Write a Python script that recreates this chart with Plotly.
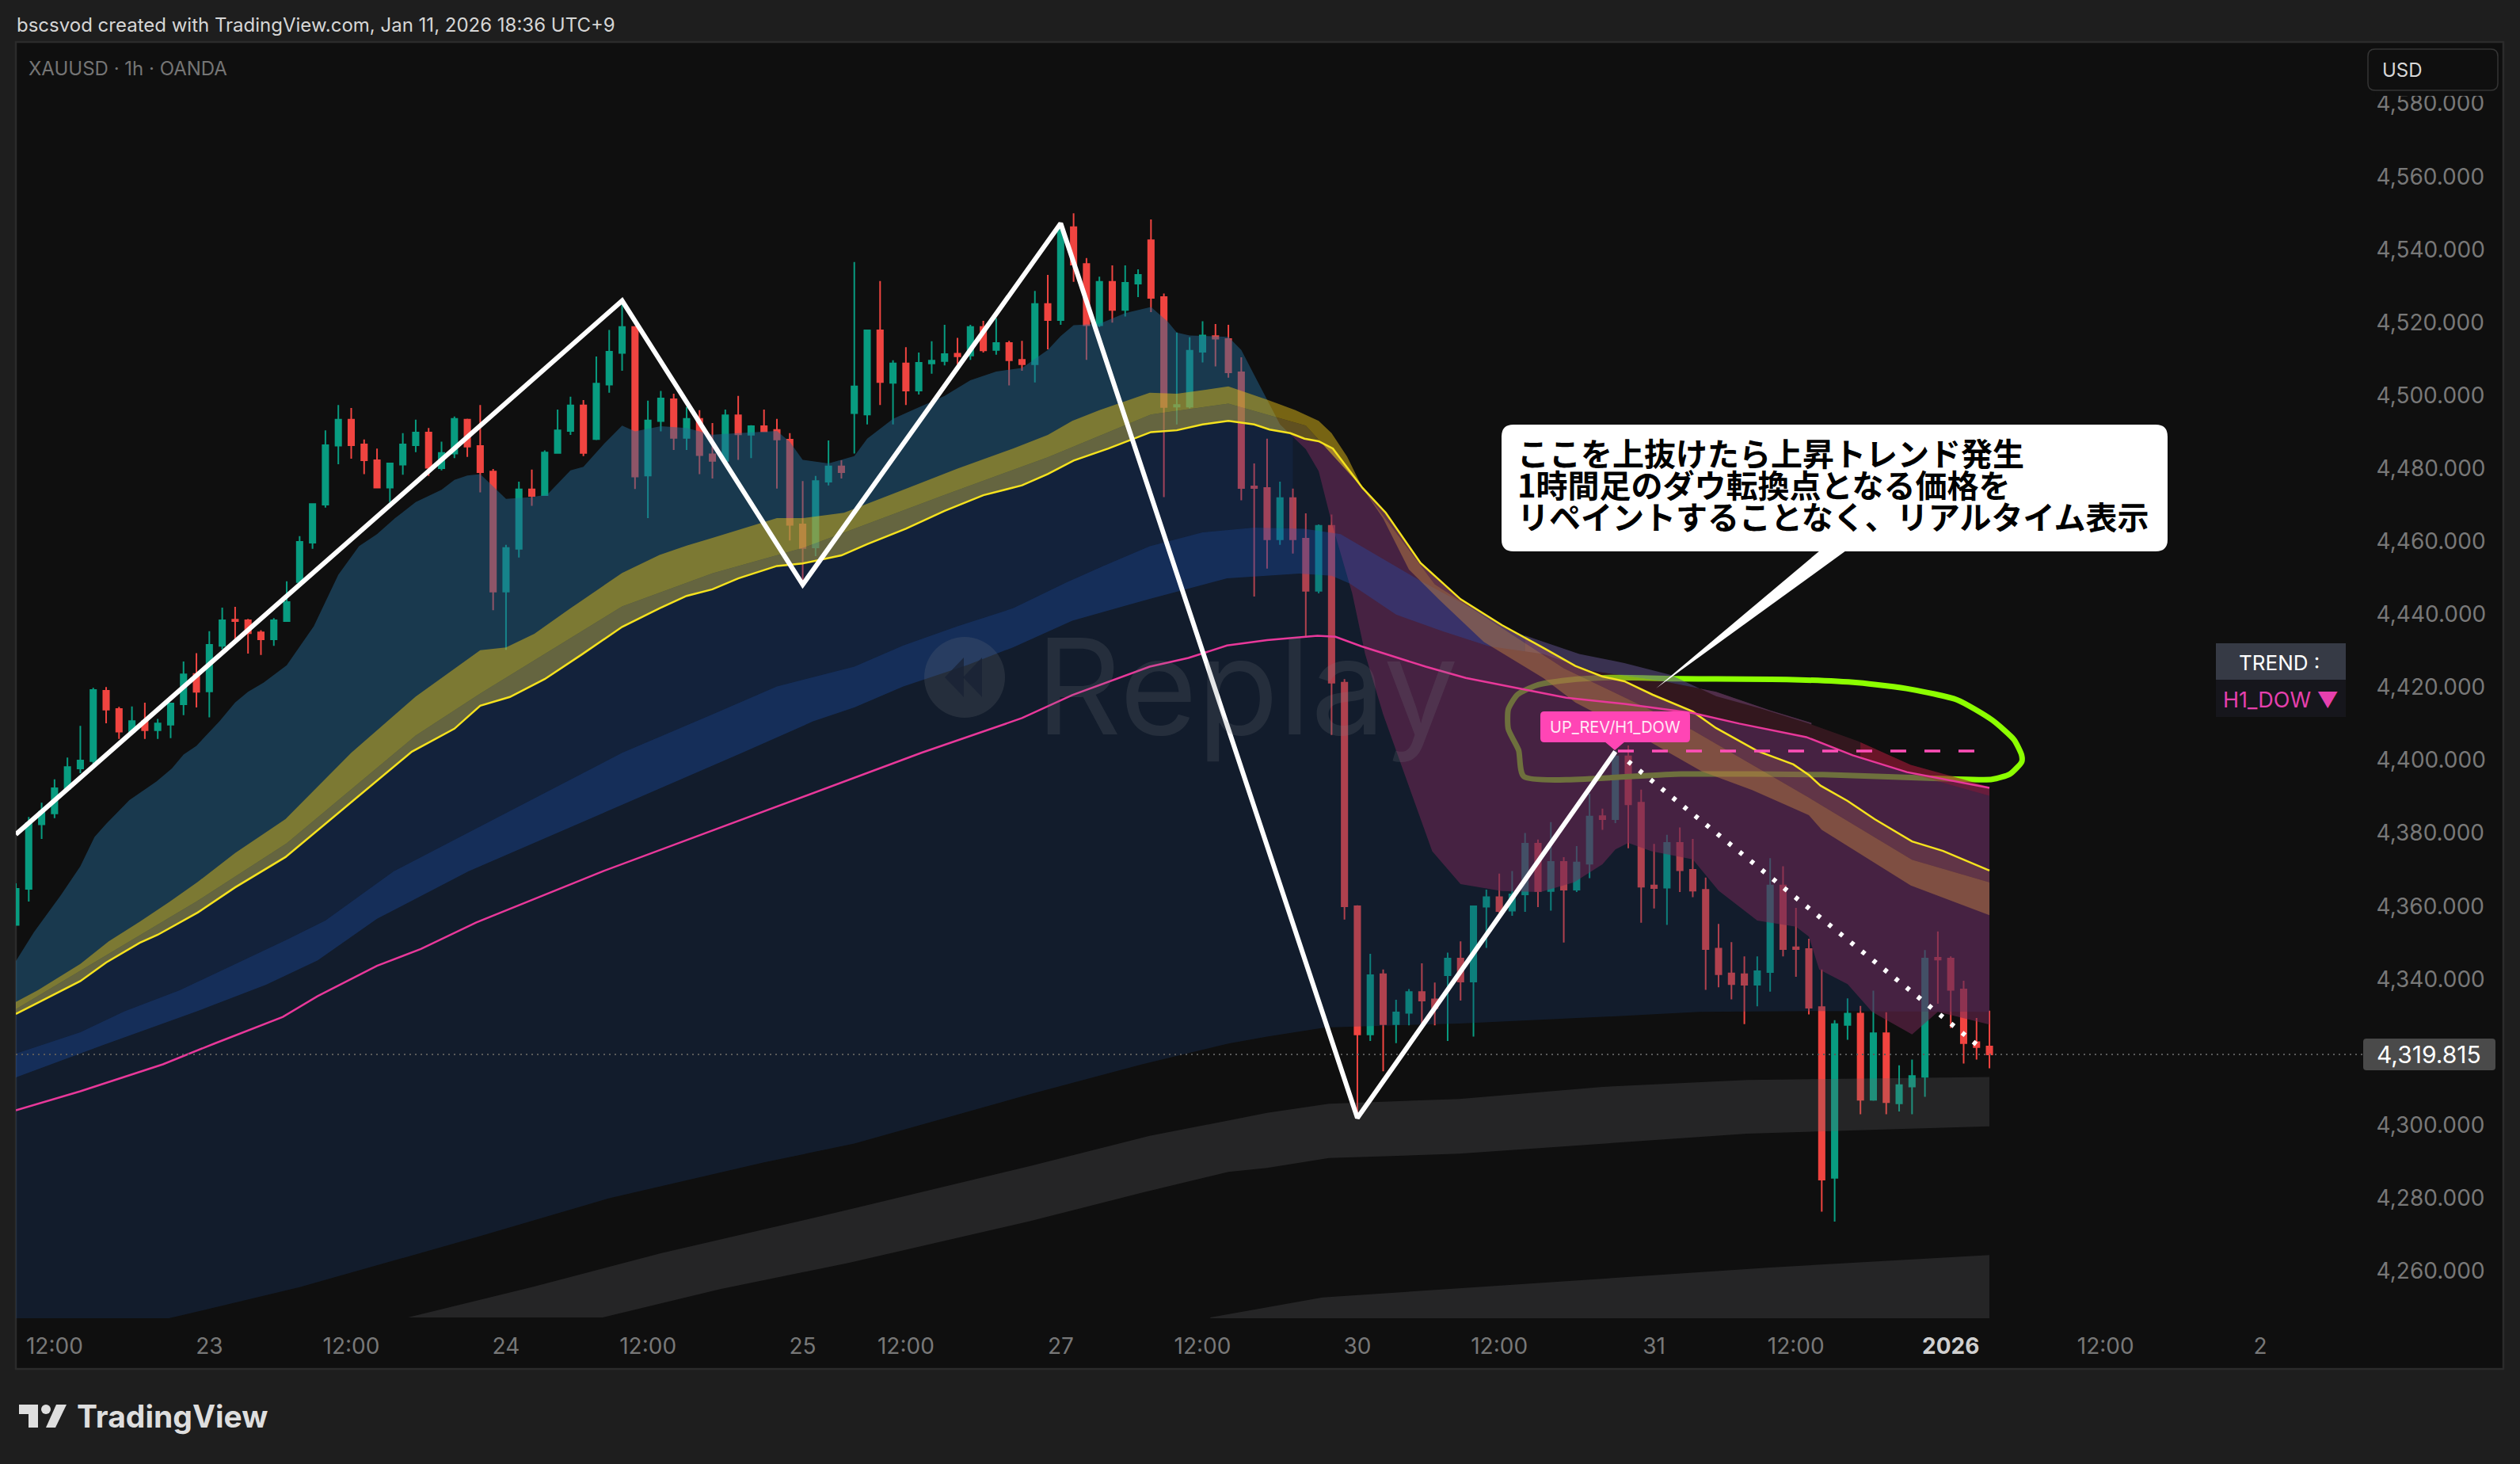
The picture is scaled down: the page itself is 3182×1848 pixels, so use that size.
import numpy as np
import plotly.graph_objects as go

# ---------- chart data (bar index, prices) ----------
OPEN = [4354.6,4364.5,4382.2,4385.2,4391.9,4397.5,4399.5,4418.8,4413.8,4407.5,
4410.5,4408.0,4409.5,4415.1,4423.4,4418.6,4431.1,4438.3,4438.1,4434.8,
4432.9,4437.9,4448.6,4459.4,4469.8,4486.0,4493.1,4486.3,4482.0,4474.5,
4480.8,4486.1,4489.6,4479.8,4483.8,4493.1,4485.9,4478.9,4446.0,4457.7,
4474.0,4472.4,4484.0,4490.0,4497.0,4487.8,4502.7,4511.4,4518.5,4477.8,
4492.7,4498.7,4488.1,4493.3,4483.6,4481.8,4494.3,4489.0,4491.3,4490.3,
4487.6,4464.4,4458.1,4476.1,4480.3,4494.9,4494.5,4517.6,4503.2,4508.5,
4501.1,4508.5,4509.2,4511.2,4510.7,4518.5,4512.2,4514.1,4509.5,4508.3,
4524.8,4520.4,4545.9,4535.8,4519.0,4530.9,4523.2,4530.4,4542.3,4526.7,
4496.7,4496.7,4511.7,4516.0,4515.2,4506.1,4474.8,4474.4,4460.3,4471.6,
4460.5,4446.2,4464.0,4421.0,4359.7,4324.6,4341.1,4327.4,4330.5,4336.2,
4334.2,4340.8,4345.4,4339.1,4359.6,4362.2,4358.5,4363.0,4376.9,4363.9,
4371.9,4364.3,4371.4,4384.4,4383.6,4400.8,4388.1,4365.4,4364.8,4377.1,
4369.7,4364.2,4348.1,4341.3,4341.1,4338.2,4341.7,4365.4,4348.5,4348.0,
4332.1,4285.3,4327.2,4330.3,4306.7,4324.9,4305.7,4310.3,4313.0,4345.6,
4345.4,4336.9,4322.5,4321.3]
HIGH = [4366.0,4384.2,4388.1,4394.5,4400.5,4409.2,4419.6,4419.8,4414.4,4414.5,
4415.5,4411.1,4415.3,4426.8,4429.1,4435.1,4441.6,4441.8,4438.5,4435.4,
4438.7,4448.8,4461.2,4470.1,4490.2,4497.1,4496.3,4487.7,4485.2,4481.3,
4489.4,4493.1,4490.8,4487.1,4494.0,4493.4,4497.1,4479.6,4458.8,4476.1,
4479.4,4484.7,4495.9,4499.4,4498.5,4510.4,4517.7,4525.7,4518.5,4498.3,
4501.0,4500.2,4496.6,4495.7,4492.2,4495.9,4499.6,4491.6,4495.9,4493.3,
4489.4,4476.3,4477.7,4487.4,4482.0,4536.3,4517.6,4531.1,4509.4,4513.0,
4511.5,4514.6,4519.1,4515.5,4519.1,4520.2,4520.9,4514.7,4514.7,4528.4,
4532.8,4546.6,4549.7,4537.4,4532.3,4535.4,4535.4,4534.3,4548.0,4527.7,
4517.0,4515.7,4520.1,4519.3,4519.1,4510.2,4481.1,4487.9,4476.1,4474.2,
4467.4,4464.4,4467.1,4422.0,4360.0,4346.7,4342.4,4334.1,4337.0,4344.1,
4338.8,4347.0,4350.1,4359.7,4364.3,4368.7,4369.4,4379.8,4378.0,4382.8,
4373.2,4376.2,4390.6,4386.5,4402.3,4403.8,4391.7,4376.8,4379.3,4381.3,
4378.2,4367.6,4354.9,4349.9,4346.0,4346.0,4372.9,4370.7,4359.3,4350.8,
4342.4,4328.5,4334.5,4332.4,4336.6,4330.7,4316.1,4317.7,4347.7,4352.8,
4346.0,4339.3,4329.1,4331.1]
LOW = [4354.6,4361.0,4378.2,4383.9,4391.9,4396.2,4398.6,4409.9,4405.6,4407.5,
4405.6,4405.6,4405.8,4412.1,4414.2,4411.5,4430.2,4432.7,4429.0,4428.6,
4431.1,4437.9,4448.6,4457.7,4469.0,4480.9,4482.4,4478.2,4474.3,4470.5,
4478.0,4484.2,4477.7,4479.2,4482.6,4482.9,4473.2,4440.9,4430.0,4455.3,
4469.5,4472.4,4483.9,4488.9,4483.1,4487.5,4500.5,4506.5,4474.1,4466.1,
4489.9,4484.8,4484.8,4478.2,4477.0,4481.8,4482.1,4482.6,4489.7,4474.2,
4460.0,4448.2,4455.7,4475.1,4477.0,4483.8,4491.8,4497.1,4491.8,4497.1,
4500.0,4505.7,4508.0,4508.3,4509.5,4511.5,4510.9,4502.5,4506.5,4503.3,
4512.4,4519.1,4530.9,4509.5,4518.5,4519.7,4521.4,4526.7,4522.6,4471.9,
4491.8,4496.2,4508.8,4507.7,4504.6,4471.0,4444.6,4452.3,4458.8,4456.4,
4433.6,4445.5,4406.7,4356.1,4301.5,4322.8,4314.5,4322.2,4327.1,4327.1,
4327.1,4322.8,4333.9,4324.0,4348.3,4358.0,4357.1,4358.2,4359.5,4358.5,
4349.8,4363.6,4367.4,4380.7,4382.5,4375.6,4355.2,4359.1,4354.6,4363.6,
4362.2,4336.8,4337.5,4334.2,4327.4,4332.3,4336.3,4346.0,4340.4,4330.1,
4276.0,4273.3,4323.1,4302.7,4306.4,4302.7,4303.5,4302.7,4307.5,4333.0,
4326.4,4316.6,4317.7,4315.3]
CLOSE = [4364.5,4382.5,4385.6,4392.1,4397.9,4399.7,4419.0,4413.6,4407.6,4410.5,
4408.0,4409.8,4415.3,4423.3,4418.5,4431.4,4438.1,4437.9,4434.6,4432.9,
4438.1,4443.1,4459.6,4470.0,4486.1,4493.1,4486.1,4482.0,4474.5,4481.1,
4486.3,4489.6,4479.9,4484.0,4493.3,4485.7,4478.7,4446.0,4457.9,4474.0,
4472.2,4484.1,4490.2,4497.0,4484.0,4503.0,4511.7,4518.5,4477.5,4492.9,
4498.9,4488.1,4493.3,4483.4,4481.8,4494.3,4489.1,4491.3,4489.9,4487.7,
4464.3,4457.9,4476.3,4480.3,4478.7,4502.2,4517.6,4503.4,4508.5,4501.1,
4508.7,4509.3,4511.1,4510.5,4518.5,4512.1,4514.1,4509.4,4508.3,4524.8,
4520.4,4545.6,4535.6,4519.0,4530.9,4523.2,4530.6,4532.8,4526.5,4496.6,
4497.1,4512.0,4516.2,4515.3,4506.1,4474.4,4474.4,4460.3,4471.6,4460.3,
4446.2,4464.0,4421.0,4359.7,4324.6,4340.8,4327.4,4330.6,4336.2,4333.9,
4331.8,4345.4,4339.1,4359.7,4362.2,4358.4,4363.0,4376.9,4363.9,4371.9,
4364.3,4371.7,4384.3,4383.6,4400.8,4387.7,4365.1,4364.7,4377.1,4369.6,
4364.0,4348.0,4341.1,4338.4,4338.2,4341.9,4365.4,4348.0,4348.0,4331.9,
4284.8,4327.4,4330.3,4306.7,4324.9,4306.0,4310.7,4313.2,4345.4,4345.1,
4336.8,4322.2,4321.1,4319.1]

TICK_POS = [3, 15, 26, 38, 49, 61, 69, 81, 92, 104, 115, 127, 138, 150, 162, 174]
TICK_TXT = ["12:00", "23", "12:00", "24", "12:00", "25", "12:00", "27", "12:00", "30",
            "12:00", "31", "12:00", "<b><span style='color:#d0d0d0'>2026</span></b>", "12:00", "2"]
PRICE_TICKS = [4260, 4280, 4300, 4340, 4360, 4380, 4400, 4420, 4440, 4460, 4480,
               4500, 4520, 4540, 4560, 4580]
LAST_LEVEL = 4319.1
LAST_TEXT = "4,319.815"

# short average (upper edge of the cloud in the rise, lower edge in the fall)
T_X = [0,1.4,3.5,5,6.1,7,8.8,10.9,12.1,13,14,15.8,17,18,19.2,21,23.1,25,26.6,28,29.4,31,33,34,35,36,37,38,40,41.2,43,44,45.6,47,48,50,52,54,56,59,60,61,63,65,66,68,69.5,72,74,76,78,80,81,82,84,86,88,89.3,90,91,94,95,96,97,98,100,101,102,103.6,104.6,106,107.5,109.8,112,115.2,118.2,120.8,123,124,125,126.8,130,132,135,138,139,139.8,142,143.9,147,149,153]
T_V = [4344.7,4352.6,4362.8,4370.7,4378.7,4382.3,4388.8,4393.9,4397.5,4401.3,4403.7,4410.5,4415.6,4418.5,4421,4425.8,4436.5,4450.6,4458.4,4461.7,4466.1,4470.5,4473.9,4476.6,4477.8,4478.2,4474.8,4471.4,4471.9,4472.6,4479.2,4480.2,4486.5,4491.5,4489.9,4491.3,4490.8,4489,4489.4,4490,4487,4482.1,4481.1,4483.1,4487.9,4493.3,4495.7,4499.6,4503.9,4506.3,4507.3,4512.2,4516,4519,4519.4,4522.3,4524,4520,4517,4516.2,4515.8,4512.2,4505.4,4498.6,4491.8,4485,4479,4465,4445.5,4428.9,4412.3,4397.3,4374.8,4365.8,4363.9,4363.6,4366.3,4371.2,4375.3,4377.1,4374.8,4372.6,4364,4355.8,4354.1,4351.4,4342.4,4338.4,4330.8,4324.6,4330.8,4327.3]

# yellow average
Y_X = [0,5,7,9.6,11,14.1,17,20.9,30.7,34,36,38.3,41,43.9,47,49.9,52,54,56,59,61,64,66,69,72,75,78,80,82,84.7,88,90,92,94,96,97.2,98.8,99.9,101,102.1,103.2,104.4,106.2,108.9,112,115.2,118.4,120.9,123,124.7,126.9,130,131.8,135,137.8,139,139.9,142,144.1,147,149.4,153]
Y_V = [4330.2,4339.2,4344.3,4349.7,4351.9,4358,4364.9,4373.2,4402.1,4408.4,4414.7,4417.1,4422,4428.8,4436.3,4441.4,4444.8,4446.6,4449.6,4453,4453.7,4455.9,4459,4463.2,4468.1,4472.4,4475.1,4478.2,4481.9,4485.2,4489.7,4490.2,4491.8,4492.8,4491.8,4490.4,4489.4,4487.9,4487.2,4485.2,4480,4474.4,4467.6,4453.8,4443.9,4436.8,4430.6,4425.6,4422.7,4421.4,4417.7,4413.1,4408.6,4402.3,4398.6,4395.7,4392.8,4388.6,4383.6,4377.5,4374.9,4369.5]

# olive band: outer edge and inner edge
O1_X = [0,1.7,5,7.2,9.6,11.9,14.1,17,20.9,26,31,36,38,40.2,43,47,49.9,52,54,59,61,64.2,68.8,73,77.3,80,81.9,84,87.9,90,94,97,99.2,101,102,103.2,104.4,106,108,110.3,113.8,118.4,120.9,126.4,130.7,134.6,139,140,146.9,153]
O1_V = [4333.5,4336.7,4343.9,4350.1,4355.5,4360.9,4366.4,4374.3,4383.6,4401.8,4417.2,4429.9,4430.7,4434.4,4441.4,4451.1,4456,4458.6,4460.7,4466.1,4466.1,4467.6,4473.9,4479.7,4485.2,4488.9,4492.8,4495.7,4500.5,4500.2,4502.2,4498.6,4495.7,4492.8,4489.4,4483,4474.4,4466,4452,4443.9,4432.2,4422.3,4415.6,4405.4,4396.7,4391.6,4384.7,4380.7,4365.4,4357.3]
O2_X = [0,5,14,21,31,36,47,54,61,72,80,88,94,100,104.4,110,120,130,139,147,153]
O2_V = [4331.5,4342,4361,4377,4406.5,4418,4441.9,4451,4457.9,4472.5,4482.8,4494.5,4497.5,4491.5,4474.4,4448,4425,4408,4389.5,4372.5,4366.3]

# blue band edges
B1_X = [0,5,8.4,12.7,20.9,24,29.3,47,54,59,65,68.8,73,77.3,81.5,84.3,87.9,92,96,99.9,102.7,108.9,114.2,115.6,121.2,124.7,128.3,131.8,135.3,139,142.8,146.9,151,153]
B1_V = [4319.3,4325.2,4330.9,4336.7,4350.4,4355.8,4369.3,4401.8,4412.3,4420,4425.4,4431.2,4436.5,4441.4,4448.6,4453,4458.4,4462.2,4463.5,4463.2,4461.7,4448.9,4438.9,4435.6,4428.9,4426.4,4423.1,4417.3,4413.9,4409.8,4405,4398.5,4394.5,4392.4]
B2_X = [0,6.7,14,19.4,23.4,28,35.1,56.3,61.8,65,68.8,73.8,77.3,81.9,87.9,93.9,99.5,102,103.4,107,110.6,114.2,118.4,122.2,127.7,131.8,136,139.2]
B2_V = [4312.8,4321.6,4330.9,4338.2,4344.9,4356.3,4369.3,4401.8,4410.4,4414.2,4420,4425.9,4430.7,4438,4444,4449.6,4450.9,4450.3,4448.2,4439.7,4435.1,4431,4428.9,4424.2,4421.4,4418.5,4413.4,4410]

# pink average
P_X = [0,5,11.4,15.4,20.7,23.4,28,31.4,35.7,39.3,45.5,70.2,78,81.9,87.9,90.9,93.9,97,100.9,102.3,104.3,109.3,112.4,116.6,120.2,124.7,130,133.6,138.8,142.4,146.6,153]
P_V = [4303.8,4309,4316.4,4322.1,4329.4,4335.1,4343.4,4348,4355.3,4360.5,4369.3,4401.8,4411.3,4417.6,4425.4,4427.8,4431.2,4432.7,4433.9,4433.6,4431,4425.4,4422.3,4419.4,4416.9,4415.2,4412.7,4409.8,4406.1,4401.1,4396.5,4392.2]

# lower edge of the navy cloud
B0_X = [0,12,22,36,46,58,65,78.6,87.3,94,97,101.5,111.9,123,130.5,139.8,153]
B0_V = [4237,4246.9,4255.3,4269.3,4279.7,4289.5,4294.7,4308.2,4316.4,4322.1,4324,4326.5,4327.6,4329.4,4330.8,4331,4330.8]

# grey bands
G1T_X = [30.4,40,50,63.3,78.6,87.9,94.6,97,101.8,111.9,123,134.2,153]
G1T_V = [4247,4255.3,4264.6,4275.5,4288.5,4296.8,4301.4,4303.1,4305.6,4306.9,4310.2,4312.1,4312.9]
G1B_X = [45.5,54.6,64.6,78.6,87.3,94,97,101.8,111.9,123,134.2,153]
G1B_V = [4247,4254.8,4262,4273.4,4281.2,4286.9,4288,4290.7,4291.9,4294.7,4297.4,4299.4]
G2T_X = [92.6,101.3,136,153]
G2T_V = [4247,4252.5,4260.7,4264.1]
G2B_X = [92.6,153]
G2B_V = [4246,4246]

WEDGE_X = [146,150,153]
WEDGE_V = [4397,4393,4390]

# hand-drawn marks
DOW_X = [0,47,61,81,104,124]
DOW_V = [4379.4,4525.7,4447.9,4546.9,4301.7,4402.1]
DOTS_X = [125,152.4]
DOTS_V = [4399.4,4320.7]
LEVEL_X = [124.2,152.1]
LEVEL_V = [4402.3,4402.3]
LOOP_X = [116.9,129.1,140.1,149.6,153.2,154.6,155.5,155.5,154.9,153.2,150.5,146.9,142.8,137.3,129.1,123.6,120.3,117.9,116.4,115.7,115.7,116.5,116.9]
LOOP_V = [4395.3,4396,4395.8,4394.7,4394.5,4396,4399.3,4401.1,4405.4,4410.8,4416.3,4419.2,4421,4421.9,4422.1,4422.4,4421.7,4420.3,4417.7,4413.7,4408.3,4402.5,4395.3]

# ---------- geometry ----------
W, H = 3182, 1848
PL, PR, PT, PB = 20, 2983, 53, 1664
BAR = 16.288
fx = lambda px: (px - PL) / (PR - PL)
fy = lambda py: (PB - py) / (PB - PT)
UP, DOWN = 98.7, 104.4
CROSS = 130.3


def sub(xs, ys, a, b):
    xs = np.asarray(xs, float)
    ys = np.asarray(ys, float)
    mid = (xs > a) & (xs < b)
    return ([a] + xs[mid].tolist() + [b],
            [float(np.interp(a, xs, ys))] + ys[mid].tolist() + [float(np.interp(b, xs, ys))])


def join(first, second):
    return first[0] + second[0], first[1] + second[1]


def band(upper, lower, color, name):
    return go.Scatter(x=upper[0] + lower[0][::-1], y=upper[1] + lower[1][::-1], mode="lines",
                      fill="toself", fillcolor=color, line=dict(width=0), hoverinfo="skip",
                      name=name, showlegend=False)


fig = go.Figure()
bars = list(range(len(CLOSE)))
fig.add_trace(go.Candlestick(
    x=bars, open=OPEN, high=HIGH, low=LOW, close=CLOSE, showlegend=False, name="XAUUSD",
    increasing=dict(line=dict(color="#089c80", width=2), fillcolor="#089c80"),
    decreasing=dict(line=dict(color="#f04440", width=2), fillcolor="#f04440")))

fig.add_trace(go.Scatter(x=LOOP_X, y=LOOP_V, mode="lines", showlegend=False, name="loop",
                         line=dict(color="#8cff00", width=7, shape="spline", smoothing=0.6)))

top_edge = join(sub(Y_X, Y_V, 0, CROSS), sub(P_X, P_V, CROSS, 153))
down_top = join(sub(Y_X, Y_V, UP, CROSS), sub(P_X, P_V, CROSS, 153))
fig.add_trace(band(top_edge, sub(B0_X, B0_V, 0, 153), "rgba(28,58,112,0.30)", "navy"))
fig.add_trace(band(sub(Y_X, Y_V, 0, 99), sub(B1_X, B1_V, 0, 99), "rgba(29,88,197,0.10)", "lift"))
fig.add_trace(band(sub(T_X, T_V, 0, UP), sub(Y_X, Y_V, 0, UP), "rgba(38,104,148,0.48)", "cloud up"))
fig.add_trace(band(down_top, sub(T_X, T_V, UP, 153), "rgba(115,41,85,0.54)", "cloud down"))
fig.add_trace(band(sub(B1_X, B1_V, 0, 117), sub(B2_X, B2_V, 0, 117), "rgba(29,88,197,0.30)", "blue"))
fig.add_trace(band(sub(B1_X, B1_V, 117, 139.2), sub(B2_X, B2_V, 117, 139.2), "rgba(92,78,135,0.55)", "stripe"))
fig.add_trace(band(join(sub(B2_X, B2_V, 121, 139.2), sub(B1_X, B1_V, 139.2, 153)),
                   join(sub(Y_X, Y_V, 121, CROSS), sub(P_X, P_V, CROSS, 153)),
                   "rgba(120,40,60,0.35)", "dark red"))
fig.add_trace(band(sub(B1_X, B1_V, 143, 153), sub(P_X, P_V, 143, 153), "rgba(170,20,50,0.45)", "red"))
fig.add_trace(band(sub(P_X, P_V, 146, 153), sub(WEDGE_X, WEDGE_V, 146, 153), "rgba(170,20,50,0.35)", "red low"))
fig.add_trace(band(sub(O1_X, O1_V, 0, DOWN), sub(O2_X, O2_V, 0, DOWN), "rgba(224,186,23,0.50)", "olive"))
fig.add_trace(band(sub(O2_X, O2_V, 0, DOWN), sub(Y_X, Y_V, 0, DOWN), "rgba(178,146,50,0.50)", "olive inner"))
fig.add_trace(band(sub(O2_X, O2_V, DOWN, 153), sub(O1_X, O1_V, DOWN, 153), "rgba(183,123,66,0.50)", "orange"))
fig.add_trace(band(sub(Y_X, Y_V, DOWN, 153), sub(O2_X, O2_V, DOWN, 153), "rgba(150,90,80,0.35)", "orange inner"))
GREY = "rgba(103,105,108,0.25)"
fig.add_trace(band((G1T_X, G1T_V), (G1B_X, G1B_V), GREY, "grey 1"))
fig.add_trace(band((G2T_X, G2T_V), (G2B_X, G2B_V), GREY, "grey 2"))

fig.add_trace(go.Scatter(x=Y_X, y=Y_V, mode="lines", line=dict(color="#f5e21e", width=2.5), showlegend=False, name="yellow"))
fig.add_trace(go.Scatter(x=P_X, y=P_V, mode="lines", line=dict(color="#e8389a", width=2.5), showlegend=False, name="pink"))
fig.add_trace(go.Scatter(x=[0, (PR - PL) / BAR], y=[LAST_LEVEL, LAST_LEVEL], mode="lines", showlegend=False, name="last",
                         line=dict(color="#5a5a5a", width=2, dash="2px,5px")))
fig.add_trace(go.Scatter(x=LEVEL_X, y=LEVEL_V, mode="lines", showlegend=False, name="level",
                         line=dict(color="#ff4fb8", width=3.5, dash="20px,23px")))
fig.add_trace(go.Scatter(x=DOW_X, y=DOW_V, mode="lines", showlegend=False, name="dow",
                         line=dict(color="#ffffff", width=6)))
fig.add_trace(go.Scatter(x=DOTS_X, y=DOTS_V, mode="lines", showlegend=False, name="dots",
                         line=dict(color="#ffffff", width=6, dash="5px,13.1px")))


# ---------- chrome: page furniture placed in pixels ----------
def path(points):
    return "M" + " L".join(f"{fx(x):.6f},{fy(y):.6f}" for x, y in points) + " Z"


def rrect(x0, y0, x1, y1, r):
    c = lambda x, y: f"{fx(x):.6f},{fy(y):.6f}"
    return (f"M{c(x0 + r, y0)} L{c(x1 - r, y0)} Q{c(x1, y0)} {c(x1, y0 + r)} L{c(x1, y1 - r)} "
            f"Q{c(x1, y1)} {c(x1 - r, y1)} L{c(x0 + r, y1)} Q{c(x0, y1)} {c(x0, y1 - r)} "
            f"L{c(x0, y0 + r)} Q{c(x0, y0)} {c(x0 + r, y0)} Z")


def shape(d, fill, line=None, lw=0, layer="above"):
    return dict(type="path", xref="paper", yref="paper", path=d, fillcolor=fill, layer=layer,
                line=dict(color=line or fill, width=lw))


shapes = [
    shape(path([(20, 53), (3161, 53), (3161, 1728), (20, 1728)]), "#0f0f0f", "#2b2b2b", 2.5, "below"),
    # replay watermark
    dict(type="circle", xref="paper", yref="paper", x0=fx(1167), x1=fx(1269), y0=fy(906), y1=fy(804),
         fillcolor="rgba(120,125,134,0.19)", line=dict(width=0), layer="above"),
    shape(path([(1193, 855), (1217, 830), (1217, 880)]), "rgba(24,34,52,0.75)"),
    shape(path([(1216, 855), (1240, 830), (1240, 880)]), "rgba(24,34,52,0.75)"),
    # callout
    shape(rrect(1896, 536, 2737, 696, 15), "#ffffff"),
    shape(path([(2298, 695), (2331, 695), (2091, 869)]), "#ffffff"),
    # pivot tag
    shape(rrect(1945, 898, 2134, 937, 5), "#ff45b5"),
    shape(path([(2026, 936), (2052, 936), (2039, 947)]), "#ff45b5"),
    # side panel
    shape(path([(2798, 812), (2962, 812), (2962, 858), (2798, 858)]), "#363a45"),
    shape(path([(2798, 858), (2962, 858), (2962, 905), (2798, 905)]), "#16161c"),
    # price scale furniture
    shape(rrect(2984, 1311, 3151, 1351, 4), "#4a4a4a"),
    shape(path([(3000, 114), (3150, 114), (3150, 121), (3000, 121)]), "#0f0f0f"),
    shape(rrect(2990, 62, 3154, 114, 9), "#0f0f0f", "#353535", 1.5),
    # logo
    shape(path([(24, 1773), (48, 1773), (48, 1802), (36, 1802), (36, 1785), (24, 1785)]), "#dedede", layer="below"),
    dict(type="circle", xref="paper", yref="paper", x0=fx(52), x1=fx(64), y0=fy(1785), y1=fy(1773),
         fillcolor="#dedede", line=dict(width=0), layer="below"),
    shape(path([(71, 1773), (84, 1773), (70, 1802), (58, 1802)]), "#dedede", layer="below"),
]

SANS = "Inter"
JP = "Noto Sans CJK JP"


def label(px, py, text, size, color, family=SANS, anchor="left"):
    return dict(xref="paper", yref="paper", x=fx(px), y=fy(py), text=text, showarrow=False,
                xanchor=anchor, yanchor="middle", align=anchor, borderpad=0,
                font=dict(family=family, size=size, color=color))


annotations = [
    label(20, 32, "bscsvod created with TradingView.com, Jan 11, 2026 18:36 UTC+9", 24, "#d6d6d6"),
    label(35, 86, "XAUUSD · 1h · OANDA", 24, "#757575"),
    label(1307, 866, "Replay", 168, "rgba(120,125,134,0.19)"),
    label(3007, 88, "USD", 24, "#d8d8d8"),
    label(1915, 571, "<b>ここを上抜けたら上昇トレンド発生</b>", 40, "#000000", JP),
    label(1915, 611, "<b>1時間足のダウ転換点となる価格を</b>", 40, "#000000", JP),
    label(1915, 651, "<b>リペイントすることなく、リアルタイム表示</b>", 40, "#000000", JP),
    label(2039.5, 918, "UP_REV/H1_DOW", 20, "#ffe9f6", anchor="center"),
    label(2878, 836, "TREND :", 26, "#ffffff", anchor="center"),
    label(2880, 883, "H1_DOW ▼", 27, "#e640ae", anchor="center"),
    label(3000, 1331, LAST_TEXT, 30, "#ffffff"),
    label(96, 1788, "<b>TradingView</b>", 39, "#dedede"),
]

fig.update_layout(
    width=W, height=H, autosize=False, showlegend=False,
    margin=dict(l=PL, r=W - PR, t=PT, b=H - PB, pad=0),
    paper_bgcolor="#1e1e1e", plot_bgcolor="rgba(0,0,0,0)",
    boxgap=0.38, dragmode=False,
    shapes=shapes, annotations=annotations,
    xaxis=dict(range=[0, (PR - PL) / BAR], rangeslider=dict(visible=False), showgrid=False, zeroline=False,
               showline=False, tickmode="array", tickvals=TICK_POS, ticktext=TICK_TXT, ticks="outside",
               ticklen=10, tickcolor="rgba(0,0,0,0)", tickfont=dict(family=SANS, size=28, color="#787878")),
    yaxis=dict(range=[4400 - (PB - 958.5) / 4.605, 4400 + (958.5 - PT) / 4.605], side="right",
               showgrid=False, zeroline=False, showline=False, tickmode="array", tickvals=PRICE_TICKS,
               tickformat=",.3f", ticks="outside", ticklen=11, ticklabelshift=1, tickcolor="rgba(0,0,0,0)",
               tickfont=dict(family=SANS, size=28, color="#787878")),
)

fig.write_html("out.html", config=dict(displayModeBar=False),
               post_script="document.body.style.margin='0';document.body.style.background='#1e1e1e';")
